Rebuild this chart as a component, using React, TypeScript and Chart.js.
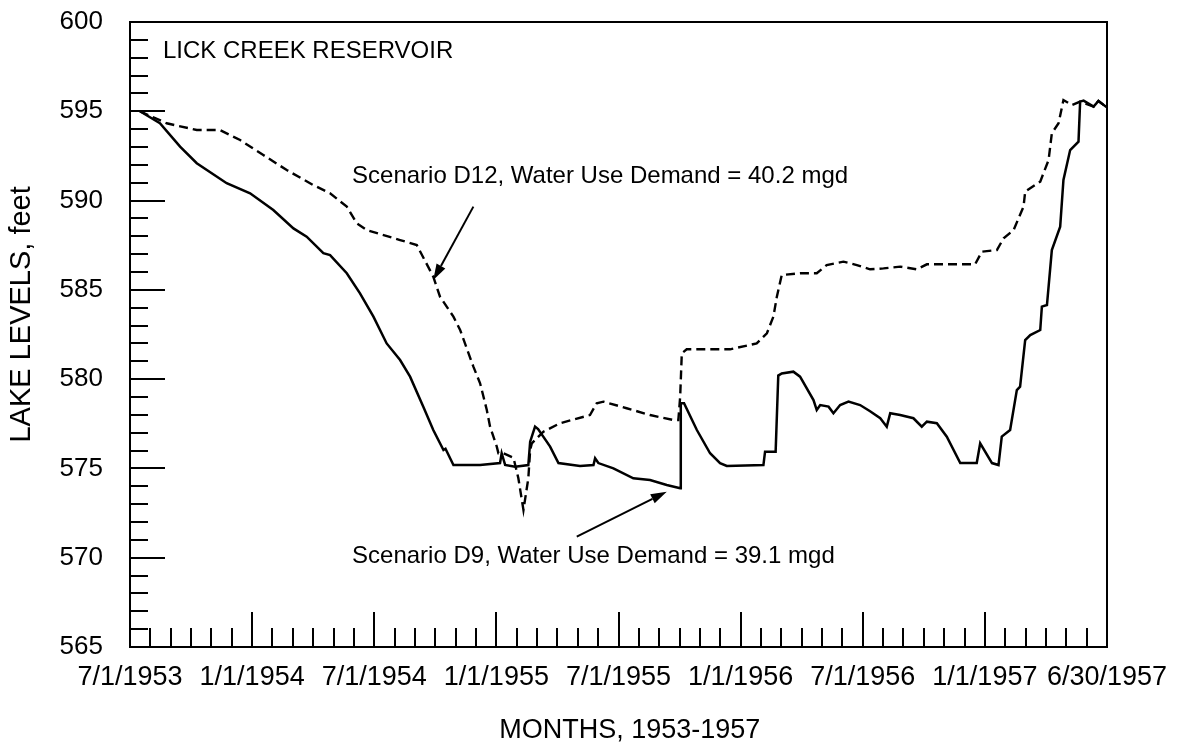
import React, { useEffect, useRef } from 'react';
import { Chart, registerables } from 'chart.js';

Chart.register(...registerables);

// Months after 7/1/1953 (0 = 7/1/1953, 48 = 6/30/1957)
const xTickMonths = [0, 6, 12, 18, 24, 30, 36, 42, 48];
const xTickLabels = ['7/1/1953', '1/1/1954', '7/1/1954', '1/1/1955', '7/1/1955', '1/1/1956', '7/1/1956', '1/1/1957', '6/30/1957'];
const yTickValues = [565, 570, 575, 580, 585, 590, 595, 600];

// Scenario D9 (solid)
const d9Months = [0.49, 1.47, 2.46, 3.28, 4.75, 5.9, 7.04, 8.03, 8.68, 9.5, 9.83, 10.65, 11.3, 11.96, 12.61, 13.27, 13.76, 14.41, 14.9, 15.4, 15.5, 15.89, 17.2, 18.18, 18.26, 18.43, 18.92, 19.57, 19.66, 19.9, 20.05, 20.64, 21.05, 22.11, 22.77, 22.85, 23.01, 23.75, 24.73, 25.55, 26.37, 27.03, 27.06, 27.22, 27.85, 28.5, 28.99, 29.32, 31.12, 31.2, 31.72, 31.85, 32.02, 32.59, 32.92, 33.58, 33.74, 33.91, 34.32, 34.56, 34.89, 35.3, 35.87, 36.36, 36.86, 37.18, 37.35, 37.84, 38.49, 38.9, 39.15, 39.64, 40.13, 40.79, 41.6, 41.77, 42.35, 42.67, 42.83, 43.24, 43.57, 43.73, 43.98, 44.23, 44.72, 44.8, 45.05, 45.29, 45.7, 45.86, 46.19, 46.6, 46.68, 46.85, 47.34, 47.58, 47.99];
const d9Levels = [595.0, 594.33, 593.02, 592.09, 590.97, 590.41, 589.47, 588.44, 587.98, 587.05, 586.95, 585.93, 584.8, 583.5, 582.0, 581.07, 580.14, 578.46, 577.15, 576.03, 576.1, 575.19, 575.19, 575.3, 575.85, 575.2, 575.1, 575.19, 576.5, 577.34, 577.2, 576.22, 575.3, 575.14, 575.19, 575.57, 575.3, 575.0, 574.45, 574.35, 574.07, 573.89, 578.65, 578.65, 577.15, 575.85, 575.3, 575.14, 575.19, 575.94, 575.94, 580.2, 580.32, 580.42, 580.14, 578.83, 578.27, 578.55, 578.46, 578.09, 578.55, 578.74, 578.55, 578.2, 577.81, 577.34, 578.09, 577.99, 577.81, 577.34, 577.62, 577.53, 576.78, 575.3, 575.3, 576.41, 575.3, 575.19, 576.78, 577.15, 579.39, 579.58, 582.19, 582.47, 582.75, 584.06, 584.15, 587.23, 588.54, 591.15, 592.83, 593.3, 595.54, 595.6, 595.26, 595.58, 595.22];

// Scenario D12 (dashed)
const d12Months = [0.49, 1.8, 3.28, 4.42, 5.41, 6.55, 7.7, 9.0, 9.83, 10.65, 11.14, 11.63, 13.27, 14.09, 14.9, 15.23, 15.89, 16.22, 16.87, 17.2, 17.53, 17.69, 18.02, 18.1, 18.35, 18.84, 19.08, 19.33, 19.57, 19.66, 19.74, 20.31, 21.13, 22.6, 22.93, 23.26, 24.4, 25.55, 26.7, 26.94, 27.03, 27.11, 27.35, 29.48, 30.79, 31.29, 31.61, 31.78, 32.02, 32.92, 33.74, 34.23, 35.05, 35.71, 36.36, 37.02, 37.84, 38.66, 39.15, 40.13, 41.52, 41.85, 42.59, 42.92, 43.41, 43.9, 43.98, 44.72, 45.13, 45.29, 45.62, 45.86, 46.27, 46.68, 47.34, 47.58, 47.99];
const d12Levels = [595.0, 594.33, 593.95, 593.95, 593.39, 592.55, 591.71, 590.87, 590.41, 589.66, 588.73, 588.35, 587.79, 587.51, 585.74, 584.62, 583.5, 582.75, 580.7, 579.77, 578.27, 577.34, 576.22, 575.85, 575.85, 575.6, 574.45, 572.67, 574.45, 576.03, 576.4, 577.06, 577.53, 577.99, 578.65, 578.74, 578.37, 577.99, 577.71, 577.71, 579.02, 581.45, 581.67, 581.67, 582.0, 582.57, 583.5, 584.62, 585.83, 585.93, 585.93, 586.39, 586.58, 586.39, 586.15, 586.2, 586.3, 586.15, 586.43, 586.43, 586.43, 587.14, 587.23, 587.89, 588.35, 589.66, 590.5, 591.06, 592.27, 593.77, 594.33, 595.63, 595.35, 595.54, 595.26, 595.58, 595.22];

const FONT = "'Liberation Sans', Arial, Helvetica, sans-serif";

const framePlugin = {
  id: 'frameAndTicks',
  afterDatasetsDraw(chart: any) {
    const { ctx, chartArea: a, scales } = chart;
    const x = scales.x;
    const y = scales.y;
    ctx.save();
    ctx.strokeStyle = '#000';
    ctx.lineWidth = 2;
    ctx.strokeRect(a.left, a.top, a.right - a.left, a.bottom - a.top);
    ctx.beginPath();
    for (let m = 1; m < 48; m++) {
      const px = Math.round(x.getPixelForValue(m));
      const len = m % 6 === 0 ? 35 : 19;
      ctx.moveTo(px, a.bottom);
      ctx.lineTo(px, a.bottom - len);
    }
    for (let v = 566; v < 600; v++) {
      const py = Math.round(y.getPixelForValue(v));
      const len = v % 5 === 0 ? 35 : 18;
      ctx.moveTo(a.left, py);
      ctx.lineTo(a.left + len, py);
    }
    ctx.stroke();
    ctx.restore();
  },
};

function arrow(ctx: CanvasRenderingContext2D, x1: number, y1: number, x2: number, y2: number) {
  const ang = Math.atan2(y2 - y1, x2 - x1);
  const hl = 16;
  const hw = 5;
  const bx = x2 - hl * Math.cos(ang);
  const by = y2 - hl * Math.sin(ang);
  ctx.beginPath();
  ctx.moveTo(x1, y1);
  ctx.lineTo(bx, by);
  ctx.stroke();
  ctx.beginPath();
  ctx.moveTo(x2, y2);
  ctx.lineTo(bx + hw * Math.sin(ang), by - hw * Math.cos(ang));
  ctx.lineTo(bx - hw * Math.sin(ang), by + hw * Math.cos(ang));
  ctx.closePath();
  ctx.fill();
}

const annotationPlugin = {
  id: 'annotations',
  afterDraw(chart: any) {
    const { ctx, scales } = chart;
    const x = scales.x;
    const y = scales.y;
    const X = (m: number) => x.getPixelForValue(m);
    const Y = (v: number) => y.getPixelForValue(v);
    ctx.save();
    ctx.fillStyle = '#000';
    ctx.strokeStyle = '#000';
    ctx.lineWidth = 2;
    ctx.textAlign = 'left';
    ctx.textBaseline = 'alphabetic';
    ctx.font = `24px ${FONT}`;
    ctx.fillText('LICK CREEK RESERVOIR', X(1.62), Y(597.98));
    ctx.fillText('Scenario D12, Water Use Demand = 40.2 mgd', X(10.91), Y(590.98));
    ctx.fillText('Scenario D9, Water Use Demand = 39.1 mgd', X(10.91), Y(569.7));
    arrow(ctx, X(16.87), Y(589.66), X(14.9), Y(585.55));
    arrow(ctx, X(21.95), Y(571.18), X(26.37), Y(573.7));
    ctx.restore();
  },
};

export default function App() {
  const canvasRef = useRef<HTMLCanvasElement | null>(null);

  useEffect(() => {
    const canvas = canvasRef.current;
    if (!canvas) return;
    const d9 = d9Months.map((m, i) => ({ x: m, y: d9Levels[i] }));
    const d12 = d12Months.map((m, i) => ({ x: m, y: d12Levels[i] }));
    const chart = new Chart(canvas, {
      type: 'line',
      data: {
        datasets: [
          {
            label: 'Scenario D12',
            data: d12,
            borderColor: '#000',
            borderWidth: 2.4,
            borderDash: [9, 5],
            pointRadius: 0,
            tension: 0,
            fill: false,
          },
          {
            label: 'Scenario D9',
            data: d9,
            borderColor: '#000',
            borderWidth: 2.5,
            pointRadius: 0,
            tension: 0,
            fill: false,
          },
        ],
      },
      options: {
        animation: false,
        responsive: false,
        devicePixelRatio: 1,
        layout: { padding: { left: 0, right: 85, top: 22, bottom: 0 } },
        plugins: {
          legend: { display: false },
          tooltip: { enabled: false },
        },
        scales: {
          x: {
            type: 'linear',
            min: 0,
            max: 48,
            afterFit: (scale: any) => {
              scale.height = 102;
              scale.paddingLeft = 0;
              scale.paddingRight = 0;
            },
            afterBuildTicks: (scale: any) => {
              scale.ticks = xTickMonths.map((v) => ({ value: v }));
            },
            grid: { display: false, drawTicks: false },
            border: { display: false },
            ticks: {
              autoSkip: false,
              maxRotation: 0,
              minRotation: 0,
              padding: 14,
              color: '#000',
              font: { family: FONT, size: 27 },
              callback: (value: any) => {
                const i = xTickMonths.indexOf(Number(value));
                return i >= 0 ? xTickLabels[i] : '';
              },
            },
            title: {
              display: true,
              text: '   MONTHS, 1953-1957',
              color: '#000',
              font: { family: FONT, size: 27 },
              padding: { top: 0, bottom: 2 },
            },
          },
          y: {
            type: 'linear',
            min: 565,
            max: 600,
            afterFit: (scale: any) => {
              scale.width = 130;
              scale.paddingTop = 0;
              scale.paddingBottom = 0;
            },
            afterBuildTicks: (scale: any) => {
              scale.ticks = yTickValues.map((v) => ({ value: v }));
            },
            grid: { display: false, drawTicks: false },
            border: { display: false },
            ticks: {
              padding: 27,
              color: '#000',
              font: { family: FONT, size: 26 },
            },
            title: {
              display: true,
              text: '     LAKE LEVELS, feet',
              color: '#000',
              font: { family: FONT, size: 29 },
              padding: { top: 5, bottom: 0 },
            },
          },
        },
      },
      plugins: [framePlugin, annotationPlugin],
    });
    return () => {
      chart.destroy();
    };
  }, []);

  return (
    <div style={{ position: 'fixed', left: 0, top: 0, width: 1192, height: 749, background: '#fff' }}>
      <canvas ref={canvasRef} width={1192} height={749} style={{ display: 'block' }} />
    </div>
  );
}
